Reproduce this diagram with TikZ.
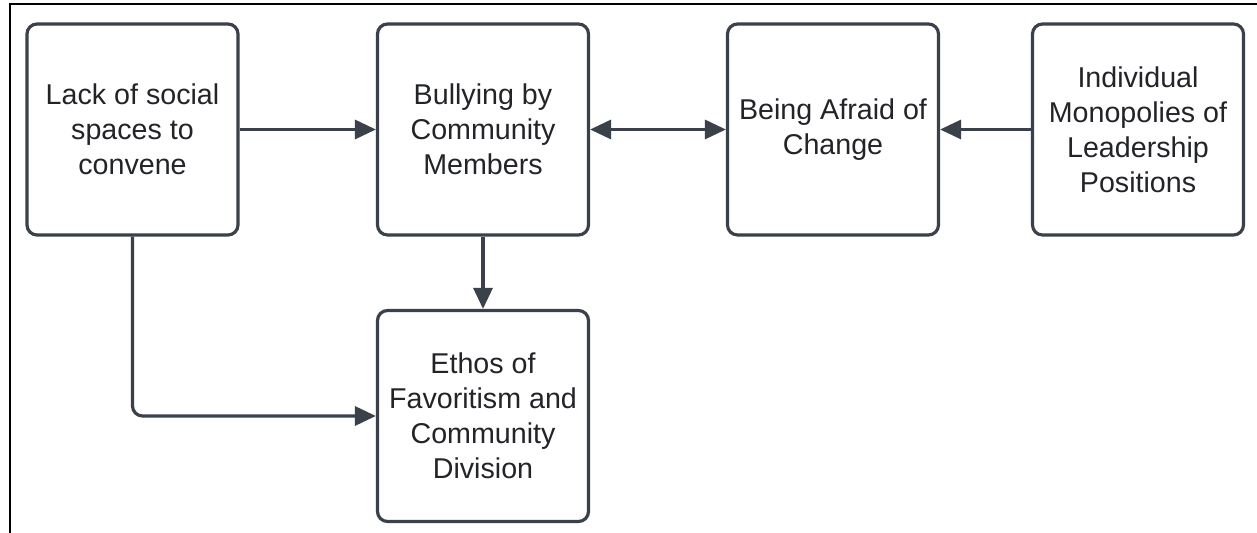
\documentclass[tikz,border=0pt]{standalone}
\usepackage{fontspec}
\setmainfont{Liberation Sans}
\usepackage{xcolor}
\usetikzlibrary{arrows.meta,positioning,calc}
\definecolor{lineslate}{RGB}{58,65,74}
\definecolor{txtdark}{RGB}{34,36,40}

\begin{document}
\begin{tikzpicture}[
  font=\fontsize{16.3}{20}\selectfont,
  >={Triangle[length=0.42cm, width=0.38cm]},
  every node/.style={align=center},
  base/.style    = {draw=lineslate, line width=1.8pt, rounded corners=0.2cm,
                    fill=white, text=txtdark, text centered,
                    minimum width=4.22cm, minimum height=4.22cm, inner sep=2pt},
  link/.style    = {draw=lineslate, line width=1.8pt},
  frame/.style   = {draw=black, line width=1.1pt}
]
\useasboundingbox (0,0) rectangle (25.14,10.66);

%% ===== outer frame =====
\coordinate (frtl) at (0.20,10.58);
\coordinate (frtr) at (25.14,10.58);
\coordinate (frbl) at (0.20,0.00);
\draw[frame] (frbl) -- (frtl) -- (frtr);

%% ===== top row =====
\node[base] (lack) at (2.65, 8.07)
  {Lack of social \\ spaces to \\ convene};
\node[base] (bully) at (9.66, 8.07)
  {Bullying by \\ Community \\ Members};
\node[base] (afraid) at (16.66, 8.07)
  {Being Afraid of \\ Change};
\node[base] (monop) at (22.76, 8.07)
  {Individual \\ Monopolies of \\ Leadership \\ Positions};

%% ===== bottom row =====
\node[base] (ethos) at (9.66, 2.34)
  {Ethos of \\ Favoritism and \\ Community \\ Division};

\draw[link, ->] (lack) -- (bully);
\draw[link, <->] (bully) -- (afraid);
\draw[link, ->] (monop) -- (afraid);
\draw[link, ->] (bully) -- (ethos);
\draw[link, ->, rounded corners=0.2cm] (lack.south) |- (ethos.west);

\end{tikzpicture}
\end{document}
